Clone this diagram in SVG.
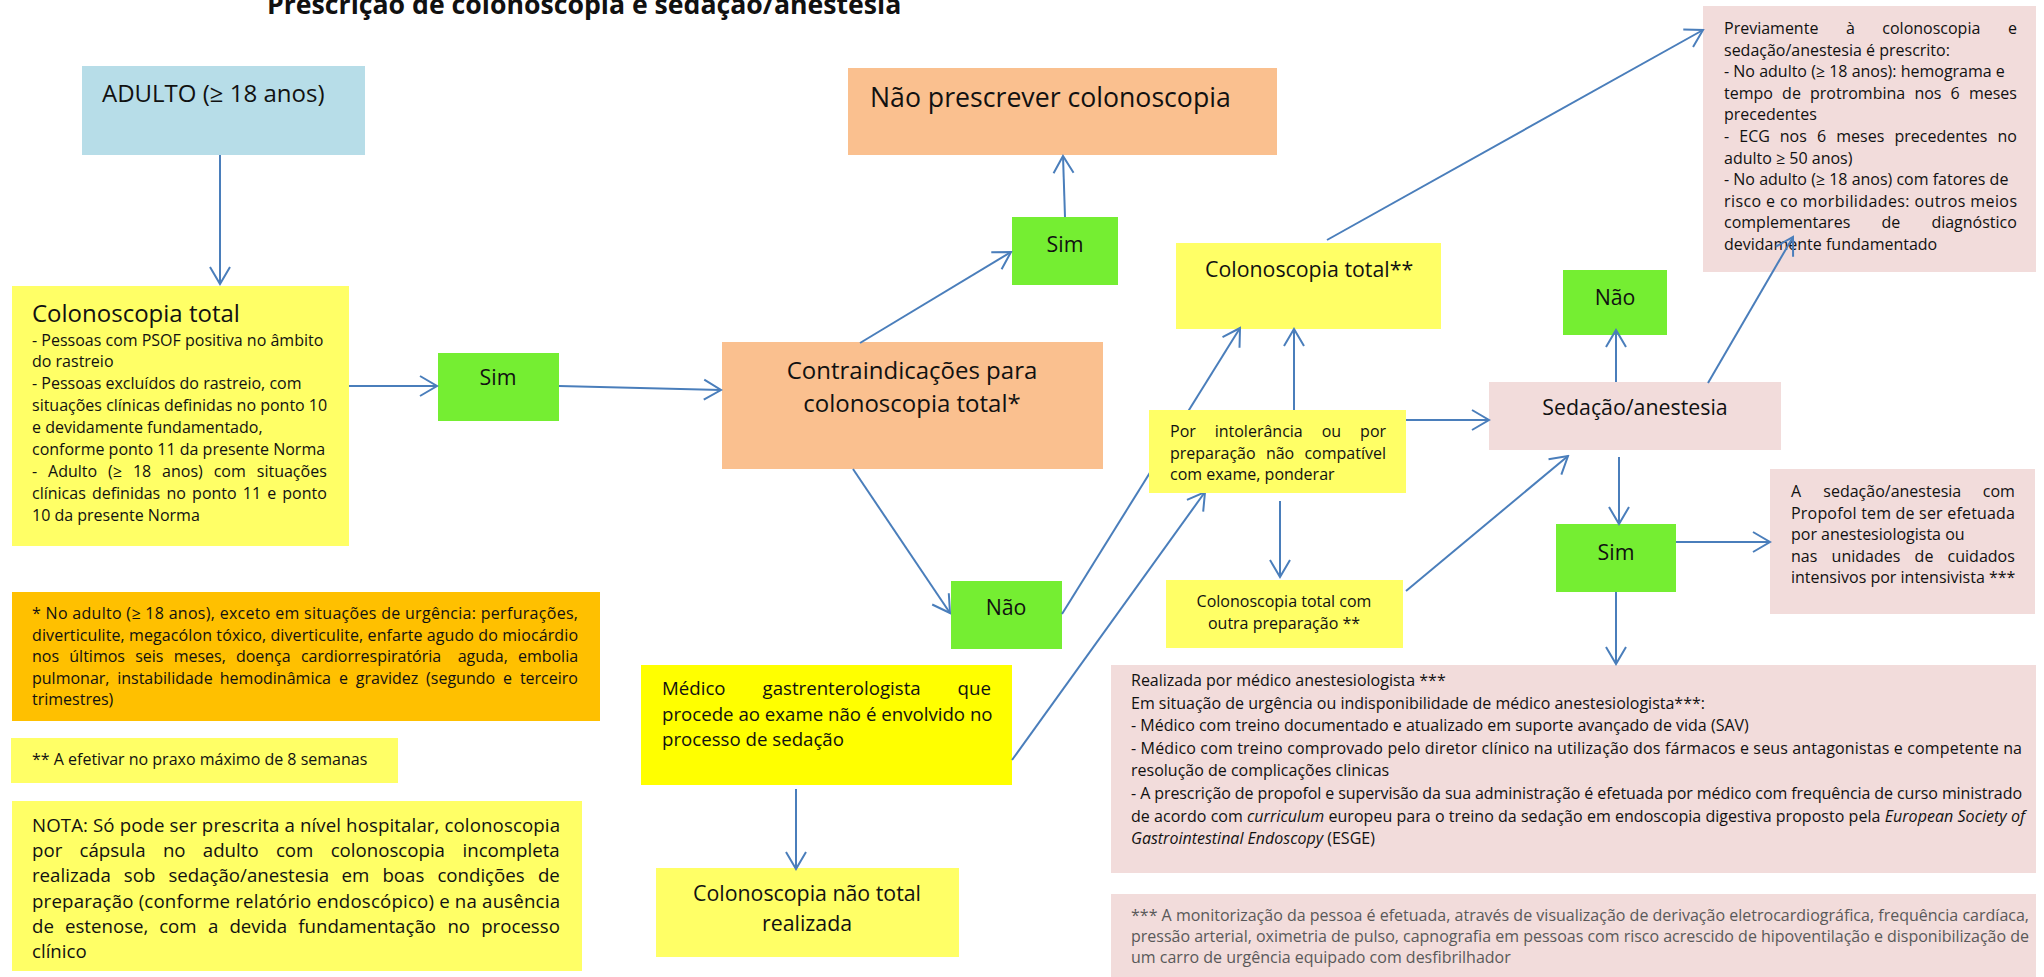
<svg xmlns="http://www.w3.org/2000/svg" width="2044" height="977" viewBox="0 0 2044 977">
<style>
text{font-family:'Open Sans','Noto Sans',sans-serif;fill:#111}
.s16{font-size:16px}
.s18{font-size:18.67px}
.s21{font-size:21.33px}
.s24{font-size:24px}
.s26{font-size:26.67px}
.mid{text-anchor:middle}
.gray{fill:#595959}
.blue{fill:#b7dde8}
.ly{fill:#ffff66}
.yy{fill:#ffff00}
.gr{fill:#75ee32}
.pe{fill:#fac08f}
.pk{fill:#f2dcdb}
.or{fill:#ffc000}
.cn line{stroke:#4a7ebb;stroke-width:2;fill:none;marker-end:url(#ah)}
</style>
<defs>
<marker id="ah" viewBox="-20 -12 22 24" refX="0" refY="0" markerWidth="22" markerHeight="24" markerUnits="userSpaceOnUse" orient="auto">
<path d="M-17,-10 L0,0 L-17,10" fill="none" stroke="#4a7ebb" stroke-width="2"/>
</marker>
</defs>
<rect width="2044" height="977" fill="#fff"/>
<text x="267" y="14" font-weight="bold" font-size="26.67">Prescrição de colonoscopia e sedação/anestesia</text>

<g id="adulto"><rect class="blue" x="82" y="66" width="283" height="89"/>
<text class="s24" x="102" y="102">ADULTO (≥ 18 anos)</text></g>

<g id="colonoscopia-total"><rect class="ly" x="12" y="286" width="337" height="260"/>
<text class="s24" x="32" y="322">Colonoscopia total</text>
<text class="s16" x="32" y="345.5">- Pessoas com PSOF positiva no âmbito</text>
<text class="s16" x="32" y="367.4">do rastreio</text>
<text class="s16" x="32" y="389.3">- Pessoas excluídos do rastreio, com</text>
<text class="s16" x="32" y="411.2">situações clínicas definidas no ponto 10</text>
<text class="s16" x="32" y="433.1">e devidamente fundamentado,</text>
<text class="s16" x="32" y="455">conforme ponto 11 da presente Norma</text>
<text class="s16" y="476.9"><tspan x="32">-</tspan><tspan x="48.1">Adulto</tspan><tspan x="108.1">(≥</tspan><tspan x="132.9">18</tspan><tspan x="162.1">anos)</tspan><tspan x="213.7">com</tspan><tspan x="256.8">situações</tspan></text>
<text class="s16" y="498.8"><tspan x="32">clínicas</tspan><tspan x="91.9">definidas</tspan><tspan x="166.5">no</tspan><tspan x="192.1">ponto</tspan><tspan x="242.8">11</tspan><tspan x="267.2">e</tspan><tspan x="282.3">ponto</tspan></text>
<text class="s16" x="32" y="520.7">10 da presente Norma</text></g>

<g id="sim1"><rect class="gr" x="438" y="353" width="121" height="68"/>
<text class="s21 mid" x="498" y="385">Sim</text></g>

<g id="contraindicacoes"><rect class="pe" x="722" y="342" width="381" height="127"/>
<text class="s24 mid" x="912" y="379">Contraindicações para</text>
<text class="s24 mid" x="912" y="412">colonoscopia total*</text></g>

<g id="sim2"><rect class="gr" x="1012" y="217" width="106" height="68"/>
<text class="s21 mid" x="1065" y="252">Sim</text></g>

<g id="nao-prescrever"><rect class="pe" x="848" y="68" width="429" height="87"/>
<text class="s26" x="870" y="107">Não prescrever colonoscopia</text></g>

<g id="nao1"><rect class="gr" x="951" y="581" width="111" height="68"/>
<text class="s21 mid" x="1006" y="615">Não</text></g>

<g id="colonoscopia-total-2"><rect class="ly" x="1176" y="243" width="265" height="86"/>
<text class="s21" x="1205" y="277">Colonoscopia total**</text></g>

<g id="medico"><rect class="yy" x="641" y="665" width="371" height="120"/>
<text class="s18" y="695"><tspan x="662">Médico</tspan><tspan x="762.5">gastrenterologista</tspan><tspan x="957.6">que</tspan></text>
<text class="s18" x="662" y="720.5">procede ao exame não é envolvido no</text>
<text class="s18" x="662" y="746">processo de sedação</text></g>

<g id="colonoscopia-nao-total"><rect class="ly" x="656" y="868" width="303" height="89"/>
<text class="s21 mid" x="807" y="901">Colonoscopia não total</text>
<text class="s21 mid" x="807" y="931">realizada</text></g>

<g id="outra-preparacao"><rect class="ly" x="1166" y="580" width="237" height="68"/>
<text class="s16 mid" x="1284" y="607">Colonoscopia total com</text>
<text class="s16 mid" x="1284" y="629">outra preparação **</text></g>

<g id="sedacao"><rect class="pk" x="1489" y="382" width="292" height="68"/>
<text class="s21 mid" x="1635" y="415">Sedação/anestesia</text></g>

<g id="nao2"><rect class="gr" x="1563" y="270" width="104" height="65"/>
<text class="s21 mid" x="1615" y="305">Não</text></g>

<g id="sim3"><rect class="gr" x="1556" y="524" width="120" height="68"/>
<text class="s21 mid" x="1616" y="560">Sim</text></g>

<g id="propofol"><rect class="pk" x="1770" y="469" width="265" height="145"/>
<text class="s16" y="497"><tspan x="1791">A</tspan><tspan x="1823.3">sedação/anestesia</tspan><tspan x="1982.8">com</tspan></text>
<text class="s16" x="1791" y="518.5" textLength="224" lengthAdjust="spacing">Propofol tem de ser efetuada</text>
<text class="s16" x="1791" y="540">por anestesiologista ou</text>
<text class="s16" y="561.5"><tspan x="1791">nas</tspan><tspan x="1831.6">unidades</tspan><tspan x="1914.6">de</tspan><tspan x="1947.6">cuidados</tspan></text>
<text class="s16" x="1791" y="583">intensivos por intensivista ***</text></g>

<g id="previamente"><rect class="pk" x="1703" y="6" width="333" height="266"/>
<text class="s16" y="34"><tspan x="1724">Previamente</tspan><tspan x="1845.9">à</tspan><tspan x="1882.3">colonoscopia</tspan><tspan x="2008">e</tspan></text>
<text class="s16" x="1724" y="55.6">sedação/anestesia é prescrito:</text>
<text class="s16" x="1724" y="77.2">- No adulto (≥ 18 anos): hemograma e</text>
<text class="s16" y="98.8"><tspan x="1724">tempo</tspan><tspan x="1782.1">de</tspan><tspan x="1810">protrombina</tspan><tspan x="1914.4">nos</tspan><tspan x="1950.6">6</tspan><tspan x="1968.9">meses</tspan></text>
<text class="s16" x="1724" y="120.4">precedentes</text>
<text class="s16" y="142"><tspan x="1724">-</tspan><tspan x="1739.3">ECG</tspan><tspan x="1779.8">nos</tspan><tspan x="1817">6</tspan><tspan x="1836.3">meses</tspan><tspan x="1894.5">precedentes</tspan><tspan x="1997.4">no</tspan></text>
<text class="s16" x="1724" y="163.6">adulto ≥ 50 anos)</text>
<text class="s16" x="1724" y="185.2">- No adulto (≥ 18 anos) com fatores de</text>
<text class="s16" x="1724" y="206.8" textLength="293" lengthAdjust="spacing">risco e co morbilidades: outros meios</text>
<text class="s16" y="228.4"><tspan x="1724">complementares</tspan><tspan x="1881.4">de</tspan><tspan x="1931.4">diagnóstico</tspan></text>
<text class="s16" x="1724" y="250">devidamente fundamentado</text></g>

<g id="realizada"><rect class="pk" x="1111" y="665" width="925" height="208"/>
<text class="s16" x="1131" y="686">Realizada por médico anestesiologista ***</text>
<text class="s16" x="1131" y="708.6">Em situação de urgência ou indisponibilidade de médico anestesiologista***:</text>
<text class="s16" x="1131" y="731.2">- Médico com treino documentado e atualizado em suporte avançado de vida (SAV)</text>
<text class="s16" x="1131" y="753.8" textLength="891" lengthAdjust="spacing">- Médico com treino comprovado pelo diretor clínico na utilização dos fármacos e seus antagonistas e competente na</text>
<text class="s16" x="1131" y="776.4">resolução de complicações clinicas</text>
<text class="s16" x="1131" y="799" textLength="891" lengthAdjust="spacing">- A prescrição de propofol e supervisão da sua administração é efetuada por médico com frequência de curso ministrado</text>
<text class="s16" x="1131" y="821.6" textLength="894" lengthAdjust="spacing">de acordo com <tspan font-style="italic">curriculum</tspan> europeu para o treino da sedação em endoscopia digestiva proposto pela <tspan font-style="italic">European Society of</tspan></text>
<text class="s16" x="1131" y="844.2"><tspan font-style="italic">Gastrointestinal Endoscopy</tspan> (ESGE)</text></g>

<g id="monitorizacao"><rect class="pk" x="1111" y="894" width="925" height="83"/>
<text class="s16 gray" x="1131" y="921" textLength="898" lengthAdjust="spacing">*** A monitorização da pessoa é efetuada, através de visualização de derivação eletrocardiográfica, frequência cardíaca,</text>
<text class="s16 gray" x="1131" y="942" textLength="898" lengthAdjust="spacing">pressão arterial, oximetria de pulso, capnografia em pessoas com risco acrescido de hipoventilação e disponibilização de</text>
<text class="s16 gray" x="1131" y="963">um carro de urgência equipado com desfibrilhador</text></g>

<g id="nota-asterisco"><rect class="or" x="12" y="592" width="588" height="129"/>
<text class="s16" x="32" y="619" textLength="546" lengthAdjust="spacing">* No adulto (≥ 18 anos), exceto em situações de urgência: perfurações,</text>
<text class="s16" x="32" y="640.5" textLength="546" lengthAdjust="spacing">diverticulite, megacólon tóxico, diverticulite, enfarte agudo do miocárdio</text>
<text class="s16" y="662"><tspan x="32">nos</tspan><tspan x="69.3">últimos</tspan><tspan x="135.2">seis</tspan><tspan x="173.7">meses,</tspan><tspan x="235.9">doença</tspan><tspan x="300.9">cardiorrespiratória</tspan><tspan x="457.7">aguda,</tspan><tspan x="517.9">embolia</tspan></text>
<text class="s16" y="683.5"><tspan x="32">pulmonar,</tspan><tspan x="117.2">instabilidade</tspan><tspan x="219.8">hemodinâmica</tspan><tspan x="339">e</tspan><tspan x="355.8">gravidez</tspan><tspan x="426.1">(segundo</tspan><tspan x="503.1">e</tspan><tspan x="519.9">terceiro</tspan></text>
<text class="s16" x="32" y="705">trimestres)</text></g>

<g id="nota-2asteriscos"><rect class="ly" x="11" y="738" width="387" height="45"/>
<text class="s16" x="32" y="765">** A efetivar no praxo máximo de 8 semanas</text></g>

<g id="nota"><rect class="ly" x="12" y="801" width="570" height="170"/>
<text class="s18" x="32" y="832" textLength="528" lengthAdjust="spacing">NOTA: Só pode ser prescrita a nível hospitalar, colonoscopia</text>
<text class="s18" y="857.2"><tspan x="32">por</tspan><tspan x="79.5">cápsula</tspan><tspan x="162.9">no</tspan><tspan x="202.8">adulto</tspan><tspan x="275.9">com</tspan><tspan x="330.7">colonoscopia</tspan><tspan x="462.5">incompleta</tspan></text>
<text class="s18" y="882.4"><tspan x="32">realizada</tspan><tspan x="123.8">sob</tspan><tspan x="168.4">sedação/anestesia</tspan><tspan x="341.6">em</tspan><tspan x="382.4">boas</tspan><tspan x="437.4">condições</tspan><tspan x="537.9">de</tspan></text>
<text class="s18" x="32" y="907.6" textLength="528" lengthAdjust="spacing">preparação (conforme relatório endoscópico) e na ausência</text>
<text class="s18" y="932.8"><tspan x="32">de</tspan><tspan x="65">estenose,</tspan><tspan x="159.2">com</tspan><tspan x="207.9">a</tspan><tspan x="229.4">devida</tspan><tspan x="298.3">fundamentação</tspan><tspan x="447.4">no</tspan><tspan x="481.2">processo</tspan></text>
<text class="s18" x="32" y="958">clínico</text></g>

<g id="connectors" class="cn">
<line x1="220" y1="155" x2="220" y2="284"/>
<line x1="349" y1="386" x2="437" y2="386"/>
<line x1="559" y1="386" x2="721" y2="390"/>
<line x1="860" y1="343" x2="1011" y2="252"/>
<line x1="1065" y1="217" x2="1063" y2="156"/>
<line x1="853" y1="469" x2="950" y2="613"/>
<line x1="1062" y1="614" x2="1240" y2="328"/>
<line x1="1012" y1="760" x2="1205" y2="492"/>
<line x1="796" y1="789" x2="796" y2="869"/>
<line x1="1294" y1="410" x2="1294" y2="329"/>
<line x1="1406" y1="420" x2="1489" y2="420"/>
<line x1="1280" y1="501" x2="1280" y2="577"/>
<line x1="1406" y1="591" x2="1568" y2="456"/>
<line x1="1327" y1="240" x2="1703" y2="30"/>
<line x1="1616" y1="382" x2="1616" y2="330"/>
<line x1="1708" y1="383" x2="1793" y2="237"/>
<line x1="1619" y1="457" x2="1619" y2="524"/>
<line x1="1676" y1="542" x2="1770" y2="542"/>
<line x1="1616" y1="592" x2="1616" y2="664"/>
</g>

<g id="por-intolerancia"><rect class="ly" x="1149" y="410" width="257" height="83"/>
<text class="s16" y="437"><tspan x="1170">Por</tspan><tspan x="1214.7">intolerância</tspan><tspan x="1321.7">ou</tspan><tspan x="1360.1">por</tspan></text>
<text class="s16" y="458.5"><tspan x="1170">preparação</tspan><tspan x="1265.9">não</tspan><tspan x="1304.4">compatível</tspan></text>
<text class="s16" x="1170" y="480">com exame, ponderar</text></g>
</svg>
